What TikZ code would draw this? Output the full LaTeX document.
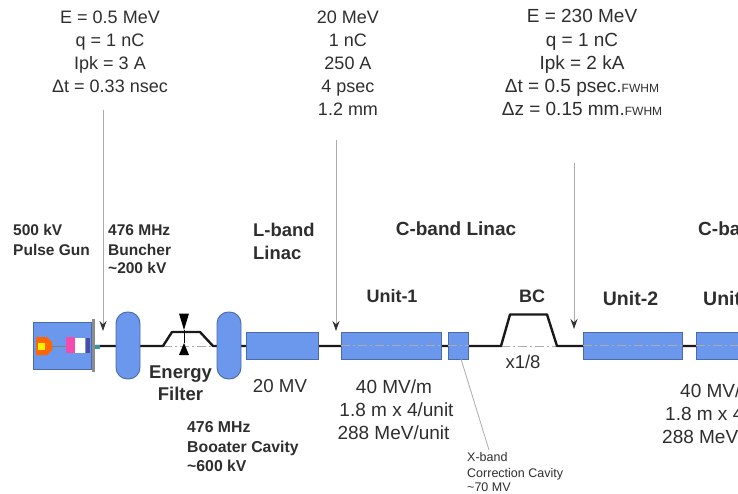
\documentclass[tikz,border=0pt]{standalone}
\usepackage{fontspec}
\setmainfont{Liberation Sans}
\usetikzlibrary{arrows.meta}
\definecolor{bluefill}{HTML}{6B97EC}
\definecolor{blueedge}{HTML}{4A6AA8}
\definecolor{txt}{HTML}{2E2E2E}
\definecolor{lead}{HTML}{ABABAB}
\tikzset{
  lbl/.style={inner sep=0pt,text=txt,text height=#1*0.72pt,text depth=#1*0.2pt,font=\fontsize{#1}{#1}\selectfont},
  blbl/.style={inner sep=0pt,text=txt,text height=#1*0.72pt,text depth=#1*0.2pt,font=\fontsize{#1}{#1}\selectfont\bfseries},
  cell/.style={draw=blueedge,fill=bluefill,line width=0.9pt,inner sep=0pt,minimum height=27pt},
  pill/.style={draw=blueedge,fill=bluefill,line width=0.9pt,inner sep=0pt,minimum width=24pt,minimum height=67pt,rounded corners=11.5pt},
  beam/.style={line width=2.4pt,black!90,line join=round},
  axis/.style={line width=0.7pt,lead,dash pattern=on 9pt off 3pt on 2pt off 3pt},
  probe/.style={line width=0.9pt,lead,-{Stealth[length=10pt,width=7pt,color=black!80]}},
  pin/.style={line width=0.8pt,lead}
}
\begin{document}
\begin{tikzpicture}[x=1pt,y=-1pt]
\useasboundingbox (0,0) rectangle (738,494);
\clip (0,0) rectangle (738,494);

% beamline
\coordinate (gunexit) at (95,346);
\coordinate (ef1) at (163,346);
\coordinate (ef2) at (172,332);
\coordinate (ef3) at (200,332);
\coordinate (ef4) at (213,346);
\coordinate (bc1) at (501,346);
\coordinate (bc2) at (510,314.5);
\coordinate (bc3) at (547,314.5);
\coordinate (bc4) at (557,346);
\draw[axis] (ef1) -- (ef4);
\draw[axis] (bc1) -- (bc4);
\draw[beam] (gunexit) -- (128,346) -- (ef1) -- (ef2) -- (ef3) -- (ef4) -- (282,346) -- (458,346) -- (bc1) -- (bc2) -- (bc3) -- (bc4) -- (738,346);

\node[pill] (buncher) at (128,345.5) {};
\node[pill] (booster) at (229,345.5) {};
\node[cell,minimum width=72pt] (lband) at (282,345.5) {};
\node[cell,minimum width=100pt] (unit1) at (391,345.5) {};
\node[cell,minimum width=20pt] (xband) at (458.5,345.5) {};
\node[cell,minimum width=99pt] (unit2) at (632.5,345.5) {};
\node[cell,minimum width=60pt] (unit3) at (726,345.5) {};

% energy filter slit
\fill (179,313.5) -- (189,313.5) -- (184,330) -- cycle;
\fill (179,355) -- (189,355) -- (184,343) -- cycle;
\draw[line width=0.6pt] (184,330) -- (184,343);

% axis inside cavities
\draw[axis] (unit1.west) -- (unit1.east);
\draw[axis] (xband.west) -- (xband.east);
\draw[axis] (unit2.west) -- (unit2.east);
\draw[axis] (unit3.west) -- (unit3.east);

% gun
\node[draw=blueedge,fill=bluefill,line width=1pt,inner sep=0pt,minimum width=58pt,minimum height=47pt] (gun) at (62.5,345.5) {};
\fill[black!45] (91.5,319) rectangle (94.5,372);
\fill[orange!80!red] (36,337) -- (47,337) -- (52,342) -- (52,350) -- (47,355) -- (36,355) -- cycle;
\fill[yellow] (38,342.5) rectangle (45,349.5);
\draw[line width=0.5pt,black!50] (52,346) -- (66,346);
\fill[magenta!70!white] (66,337) rectangle (75,353);
\fill[white] (75,338) rectangle (85,353);
\fill[blue!50!black!70] (85.5,338) rectangle (90,353);
\fill[teal!80!white] (95,344.5) rectangle (100,348.5);

% probe arrows
\coordinate (p1a) at (103,110);
\coordinate (p1b) at (103,331);
\coordinate (p2a) at (336,140);
\coordinate (p2b) at (336,331);
\coordinate (p3a) at (574,163);
\coordinate (p3b) at (574,329);
\draw[probe] (p1a) -- (p1b);
\draw[probe] (p2a) -- (p2b);
\draw[probe] (p3a) -- (p3b);
\coordinate (xlead) at (489,450);
\coordinate (xfoot) at (461,359);
\draw[pin] (xfoot) -- (xlead);

% top blocks
\node[lbl=18] (a1) at (110,19) {E = 0.5 MeV};
\node[lbl=18] (a2) at (110,42) {q = 1 nC};
\node[lbl=18] (a3) at (110,65) {Ipk = 3 A};
\node[lbl=18] (a4) at (110,88) {Δt = 0.33 nsec};
\node[lbl=18] (b1) at (348,19) {20 MeV};
\node[lbl=18] (b2) at (348,42) {1 nC};
\node[lbl=18] (b3) at (348,65) {250 A};
\node[lbl=18] (b4) at (348,88) {4 psec};
\node[lbl=18] (b5) at (348,111) {1.2 mm};
\node[lbl=19] (c1) at (582,18) {E = 230 MeV};
\node[lbl=19] (c2) at (582,42) {q = 1 nC};
\node[lbl=19] (c3) at (582,65) {Ipk = 2 kA};
\node[lbl=19] (c4) at (582,88) {Δt = 0.5 psec.{\fontsize{12}{12}\selectfont FWHM}};
\node[lbl=19] (c5) at (582,111) {Δz = 0.15 mm.{\fontsize{12}{12}\selectfont FWHM}};

% section labels
\node[blbl=15.5,anchor=west] (g1) at (13,231) {500 kV};
\node[blbl=15.5,anchor=west] (g2) at (13,251) {Pulse Gun};
\node[blbl=15.5,anchor=west] (h1) at (108,231) {476 MHz};
\node[blbl=15.5,anchor=west] (h2) at (108,251) {Buncher};
\node[blbl=15.5,anchor=west] (h3) at (108,269) {\textasciitilde200 kV};
\node[blbl=18.4,anchor=west] (l1) at (253,232) {L-band};
\node[blbl=18.4,anchor=west] (l2) at (253,255) {Linac};
\node[blbl=19] (cl) at (456,231) {C-band Linac};
\node[blbl=19,anchor=west] (cr) at (698,231) {C-ba};
\node[blbl=18] (u1) at (392,298) {Unit-1};
\node[blbl=18] (bc) at (532,298) {BC};
\node[blbl=19.5] (u2) at (630.5,300) {Unit-2};
\node[blbl=19.5,anchor=west] (u3) at (703,300) {Unit};
\node[blbl=18.5] (e1) at (180.5,374) {Energy};
\node[blbl=18.5] (e2) at (180.5,396) {Filter};
\node[lbl=18.7] (m0) at (280,388) {20 MV};
\node[lbl=19] (m1) at (394,389) {40 MV/m};
\node[lbl=19] (m2) at (396.5,412) {1.8 m x 4/unit};
\node[lbl=19] (m3) at (393.5,435) {288 MeV/unit};
\node[lbl=18.5] (x8) at (523,364) {x1/8};
\node[blbl=15.8,anchor=west] (k1) at (187,428) {476 MHz};
\node[blbl=15.8,anchor=west] (k2) at (187,448) {Booater Cavity};
\node[blbl=15.8,anchor=west] (k3) at (187,467) {\textasciitilde600 kV};
\node[lbl=12.5,anchor=west] (x1) at (467,458) {X-band};
\node[lbl=12.5,anchor=west] (x2) at (467,474) {Correction Cavity};
\node[lbl=12.5,anchor=west] (x3) at (467,488) {\textasciitilde70 MV};
\node[lbl=19,anchor=west] (r1) at (680,393) {40 MV/};
\node[lbl=19,anchor=west] (r2) at (665,416) {1.8 m x 4};
\node[lbl=19,anchor=west] (r3) at (662,439) {288 MeV};
\end{tikzpicture}
\end{document}
